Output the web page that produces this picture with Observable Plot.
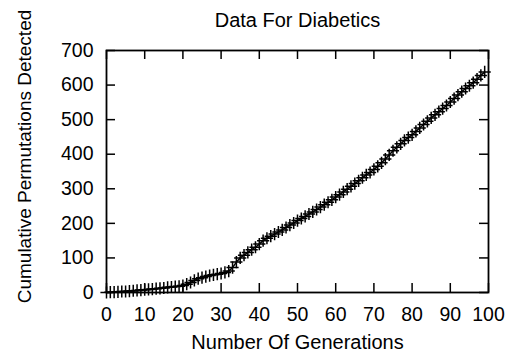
<!DOCTYPE html>
<html>
<head>
<meta charset="utf-8">
<script src="https://cdn.jsdelivr.net/npm/d3@7"></script>
<script src="https://cdn.jsdelivr.net/npm/@observablehq/plot@0.6"></script>
<style>
  html, body { margin: 0; padding: 0; background: #fff; }
  #chart svg { display: block; }
</style>
</head>
<body>
<div id="chart"></div>
<script>
const title = "Data For Diabetics";
const xLabel = "Number Of Generations";
const yLabel = "Cumulative Permutations Detected";
const xTicks = [0, 10, 20, 30, 40, 50, 60, 70, 80, 90, 100];
const yTicks = [0, 100, 200, 300, 400, 500, 600, 700];
const generations = d3.range(0, 100);
const cumulative = [
  0, 1, 1, 2, 3, 3, 4, 5, 6, 7,
  8, 9, 10, 11, 12, 13, 15, 16, 17, 18,
  20, 24, 29, 35, 40, 43, 46, 49, 51, 53,
  55, 58, 62, 72, 88, 100, 108, 116, 124, 131,
  140, 150, 157, 163, 169, 175, 181, 188, 195, 201,
  208, 214, 220, 227, 233, 240, 247, 254, 261, 268,
  276, 283, 291, 299, 307, 315, 323, 332, 340, 347,
  356, 365, 375, 386, 398, 410, 420, 430, 440, 448,
  456, 466, 476, 486, 495, 505, 514, 523, 532, 541,
  551, 561, 571, 581, 590, 598, 607, 617, 628, 638
];

const data = generations.map((g, i) => ({g, v: cumulative[i]}));

const W = 518, H = 356;
const mTop = 50, mRight = 30, mBottom = 64, mLeft = 106;
const innerH = H - mTop - mBottom;
const innerW = W - mLeft - mRight;
const tickLen = 9;
const font = "'Liberation Sans', Arial, Helvetica, sans-serif";
const fsTick = 19.5;

const chart = Plot.plot({
  width: W,
  height: H,
  marginTop: mTop,
  marginRight: mRight,
  marginBottom: mBottom,
  marginLeft: mLeft,
  style: {fontFamily: font, fontSize: fsTick + "px", color: "black", background: "white"},
  x: {domain: [0, 100]},
  y: {domain: [0, 700]},
  marks: [
    Plot.axisX(xTicks, {anchor: "bottom", tickSize: 0, tickPadding: 15, fontSize: fsTick, label: null}),
    Plot.axisY(yTicks, {anchor: "left", tickSize: 0, tickPadding: 13, fontSize: fsTick, label: null}),
    // inward ticks on all four sides
    Plot.tickX(xTicks, {x: d => d, insetTop: innerH - tickLen, stroke: "black", strokeWidth: 1.5}),
    Plot.tickX(xTicks, {x: d => d, insetBottom: innerH - tickLen, stroke: "black", strokeWidth: 1.5}),
    Plot.tickY(yTicks, {y: d => d, insetRight: innerW - tickLen, stroke: "black", strokeWidth: 1.5}),
    Plot.tickY(yTicks, {y: d => d, insetLeft: innerW - tickLen, stroke: "black", strokeWidth: 1.5}),
    Plot.line(data, {x: "g", y: "v", stroke: "black", strokeWidth: 1.5}),
    Plot.dot(data, {x: "g", y: "v", symbol: "plus", r: 4, stroke: "black", strokeWidth: 1.5}),
    Plot.frame({stroke: "black", strokeWidth: 1.8}),
    Plot.text([title], {frameAnchor: "top", lineAnchor: "bottom", dy: -24, fontSize: 20, fill: "black"}),
    Plot.text([xLabel], {frameAnchor: "bottom", lineAnchor: "bottom", dy: 56, fontSize: 20, fill: "black"}),
    Plot.text([yLabel], {frameAnchor: "left", textAnchor: "middle", rotate: -90, lineAnchor: "middle", dx: -82, dy: -15, fontSize: 19, fill: "black"})
  ]
});
document.getElementById("chart").appendChild(chart);
</script>
</body>
</html>
